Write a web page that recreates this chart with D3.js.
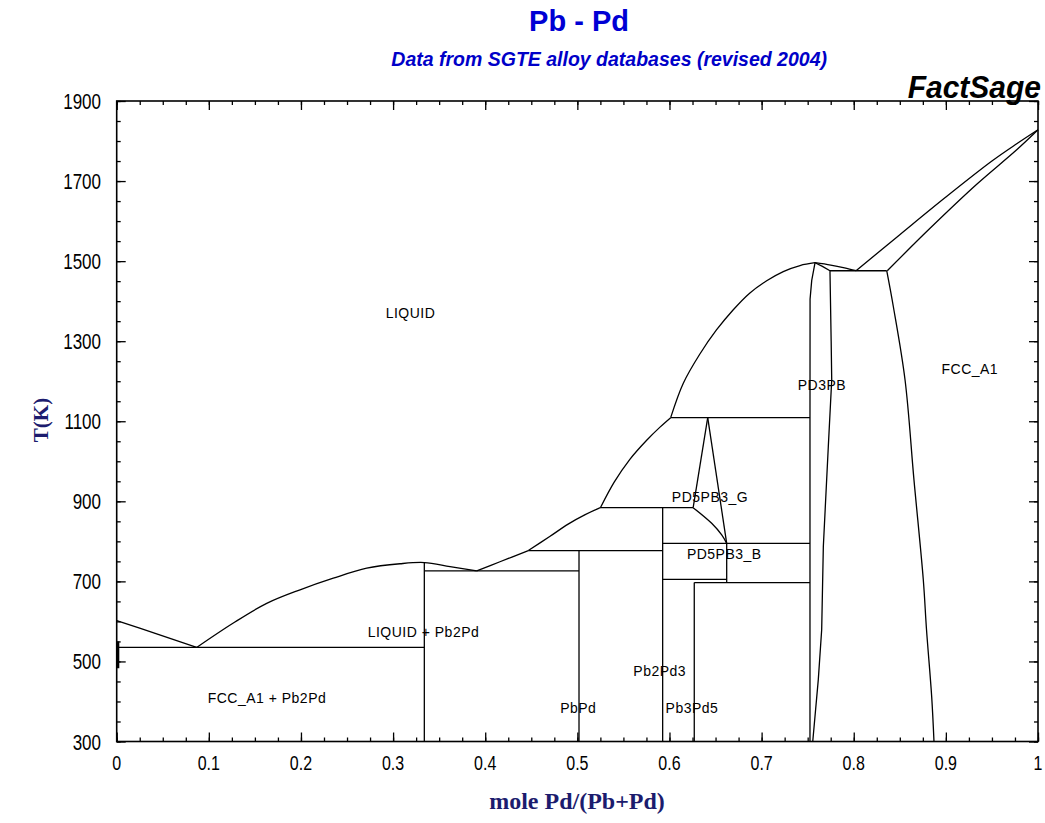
<!DOCTYPE html>
<html>
<head>
<meta charset="utf-8">
<script src="https://cdn.jsdelivr.net/npm/d3@7"></script>
<style>
  body { margin: 0; background: #fff; }
  svg { display: block; }
</style>
</head>
<body>
<svg id="chart" width="1045" height="823"></svg>
<script>
// Pb-Pd phase diagram, composition as mole fraction Pd, temperature in K.

// ---- axis ticks ----
const xTickValues = [0, 0.1, 0.2, 0.3, 0.4, 0.5, 0.6, 0.7, 0.8, 0.9, 1];
const xTickLabels = ["0", "0.1", "0.2", "0.3", "0.4", "0.5", "0.6", "0.7", "0.8", "0.9", "1"];
const yTickValues = [300, 500, 700, 900, 1100, 1300, 1500, 1700, 1900];
const yTickLabels = ["300", "500", "700", "900", "1100", "1300", "1500", "1700", "1900"];

// ---- phase boundaries [x, T] ----
const liquidusPbEutectic = [[0, 602], [0.0434, 569], [0.0868, 535]];
const liquidusPb2Pd = [[0.0868, 535], [0.1266, 596], [0.1628, 645], [0.199, 679], [0.2351, 708],
                       [0.2714, 733], [0.3075, 744], [0.3339, 747], [0.3618, 737], [0.3908, 726]];
const liquidusPbPd = [[0.3908, 726], [0.416, 749], [0.4468, 777]];
const liquidusMid = [[0.4468, 777], [0.47, 812], [0.49, 843], [0.508, 866], [0.525, 884]];
const liquidusUpper = [[0.525, 884], [0.54, 948], [0.557, 1005], [0.575, 1052], [0.59, 1086], [0.6013, 1109]];
const liquidusDome = [[0.6013, 1109], [0.615, 1195], [0.633, 1268], [0.651, 1328], [0.669, 1378],
                      [0.687, 1420], [0.7055, 1451], [0.7235, 1474], [0.7417, 1489], [0.758, 1496]];
const liquidusDomeRight = [[0.758, 1496], [0.775, 1490], [0.79, 1483], [0.8025, 1476]];
const liquidusFcc = [[0.8025, 1476], [0.85, 1566], [0.9, 1660], [0.95, 1750], [0.9769, 1793], [1, 1828]];
const solidusFcc = [[0.8364, 1476], [0.8828, 1582], [0.9335, 1692], [0.9769, 1778], [1, 1828]];
const pd3pbLeft = [[0.758, 1496], [0.7544, 1452], [0.7526, 1405], [0.7525, 1109], [0.7525, 300]];
const pd3pbRight = [[0.758, 1496], [0.766, 1487], [0.7742, 1476], [0.7755, 1300], [0.7761, 1203],
                    [0.7724, 1037], [0.767, 787], [0.7652, 579], [0.7615, 454], [0.7555, 300]];
const fccSolvus = [[0.8358, 1476], [0.843, 1386], [0.8557, 1203], [0.8654, 953], [0.8755, 704],
                   [0.879, 579], [0.8846, 412], [0.8871, 300]];
const pd5pb3GLeft = [[0.6257, 884], [0.6415, 1109]];
const pd5pb3GRight = [[0.6415, 1109], [0.6621, 795]];
const pd5pb3GLower = [[0.6257, 884], [0.6458, 845], [0.6567, 816], [0.6621, 795]];
const pbSolvus = [[0.0012, 550], [0.0012, 483]];

// invariant (horizontal) lines
const invariantT  = [535, 726, 777, 884, 1109, 795, 705, 697, 1476];
const invariantX0 = [0, 0.3339, 0.4468, 0.525, 0.6013, 0.5926, 0.5926, 0.6269, 0.7742];
const invariantX1 = [0.3339, 0.5018, 0.5926, 0.6257, 0.7525, 0.7525, 0.6621, 0.7525, 0.8358];

// line compounds and vertical boundaries
const compoundX  = [0.3339, 0.5018, 0.5926, 0.6269, 0.6621];
const compoundT0 = [300, 300, 300, 300, 697];
const compoundT1 = [747, 777, 884, 697, 795];

// phase field labels
const fieldNames = ["LIQUID", "LIQUID + Pb2Pd", "FCC_A1 + Pb2Pd", "PbPd", "Pb2Pd3", "Pb3Pd5",
                    "PD5PB3_G", "PD5PB3_B", "PD3PB", "FCC_A1"];
const fieldX = [0.3189, 0.333, 0.1631, 0.501, 0.5894, 0.6244, 0.644, 0.6595, 0.7655, 0.926];
const fieldT = [1358, 561, 396, 371, 464, 371, 898, 756, 1178, 1218];

// ---- drawing ----
const svg = d3.select("#chart");
const plotLeft = 116.7, plotRight = 1038, plotTop = 101, plotBottom = 741.5;
const x = d3.scaleLinear().domain([0, 1]).range([plotLeft, plotRight]);
const y = d3.scaleLinear().domain([300, 1900]).range([plotBottom, plotTop]);

const sans = "'Liberation Sans', Arial, sans-serif";
const serif = "'Liberation Serif', 'Times New Roman', serif";

function addText(px, py, str, o) {
  return svg.append("text")
    .attr("transform", `translate(${px},${py}) scale(${o.sx || 1},${o.sy || 1})`)
    .attr("text-anchor", o.anchor || "middle")
    .style("font-family", o.family || sans)
    .style("font-size", o.size + "px")
    .style("font-weight", o.weight || "normal")
    .style("font-style", o.style || "normal")
    .style("letter-spacing", (o.ls || 0) + "px")
    .attr("fill", o.fill || "#000")
    .text(str);
}

// titles
addText(579, 31, "Pb - Pd", { size: 29, weight: "bold", fill: "#0000d4" });
addText(827, 66, "Data from SGTE alloy databases (revised 2004)", { size: 19.5, weight: "bold", style: "italic", fill: "#0000c8", anchor: "end" });
addText(1041, 98, "FactSage", { size: 30, weight: "bold", style: "italic", anchor: "end", sy: 1.05 });

// axis ticks (inward on all four sides)
const xMinor = d3.range(0, 1.0001, 0.025);
const yMinor = d3.range(300, 1900.1, 50);
function tickAxis(axisFn, scale, values, size, tx, ty) {
  const g = svg.append("g").attr("transform", `translate(${tx},${ty})`)
    .call(axisFn(scale).tickValues(values).tickSize(size).tickFormat(""));
  g.select(".domain").remove();
  g.selectAll(".tick line").attr("stroke", "#000").attr("stroke-width", 1.3);
}
tickAxis(d3.axisBottom, x, xMinor, -4, 0, plotBottom);
tickAxis(d3.axisBottom, x, xTickValues, -9, 0, plotBottom);
tickAxis(d3.axisTop, x, xMinor, -4, 0, plotTop);
tickAxis(d3.axisTop, x, xTickValues, -9, 0, plotTop);
tickAxis(d3.axisLeft, y, yMinor, -4, plotLeft, 0);
tickAxis(d3.axisLeft, y, yTickValues, -9, plotLeft, 0);
tickAxis(d3.axisRight, y, yMinor, -4, plotRight, 0);
tickAxis(d3.axisRight, y, yTickValues, -9, plotRight, 0);

// frame
svg.append("rect").attr("x", plotLeft).attr("y", plotTop)
  .attr("width", plotRight - plotLeft).attr("height", plotBottom - plotTop)
  .attr("fill", "none").attr("stroke", "#000").attr("stroke-width", 1.6);

// tick labels
xTickValues.forEach((v, i) => addText(x(v), 770, xTickLabels[i], { size: 16, sy: 1.3 }));
yTickValues.forEach((v, i) => addText(101, y(v) + 8, yTickLabels[i], { size: 17, sy: 1.25, anchor: "end" }));

// axis titles
addText(577, 809, "mole Pd/(Pb+Pd)", { size: 24, weight: "bold", family: serif, fill: "#1c1c6e" });
svg.append("text")
  .attr("transform", "translate(48,420) rotate(-90)")
  .attr("text-anchor", "middle")
  .style("font-family", serif).style("font-size", "21px").style("font-weight", "bold")
  .attr("fill", "#1c1c6e").text("T(K)");

// boundaries
const plot = svg.append("g").attr("fill", "none").attr("stroke", "#000")
  .attr("stroke-width", 1.3).attr("stroke-linejoin", "round");
const smooth = d3.line().x(d => x(d[0])).y(d => y(d[1])).curve(d3.curveCatmullRom.alpha(0.5));
const straight = d3.line().x(d => x(d[0])).y(d => y(d[1]));

[liquidusPbEutectic, liquidusPb2Pd, liquidusPbPd, liquidusMid, liquidusUpper, liquidusDome,
 liquidusDomeRight, liquidusFcc, solidusFcc, fccSolvus, pd5pb3GLower]
  .forEach(pts => plot.append("path").attr("d", smooth(pts)));
[pd3pbLeft, pd3pbRight, pd5pb3GLeft, pd5pb3GRight]
  .forEach(pts => plot.append("path").attr("d", straight(pts)));

invariantT.forEach((t, i) => plot.append("line")
  .attr("x1", x(invariantX0[i])).attr("x2", x(invariantX1[i]))
  .attr("y1", y(t)).attr("y2", y(t)));

compoundX.forEach((cx, i) => plot.append("line")
  .attr("x1", x(cx)).attr("x2", x(cx))
  .attr("y1", y(compoundT0[i])).attr("y2", y(compoundT1[i])));

plot.append("path").attr("d", straight(pbSolvus)).attr("stroke-width", 3);

// phase field labels
fieldNames.forEach((n, i) => addText(x(fieldX[i]), y(fieldT[i]), n, { size: 14, ls: 0.5, sy: 1.1 }));
</script>
</body>
</html>
